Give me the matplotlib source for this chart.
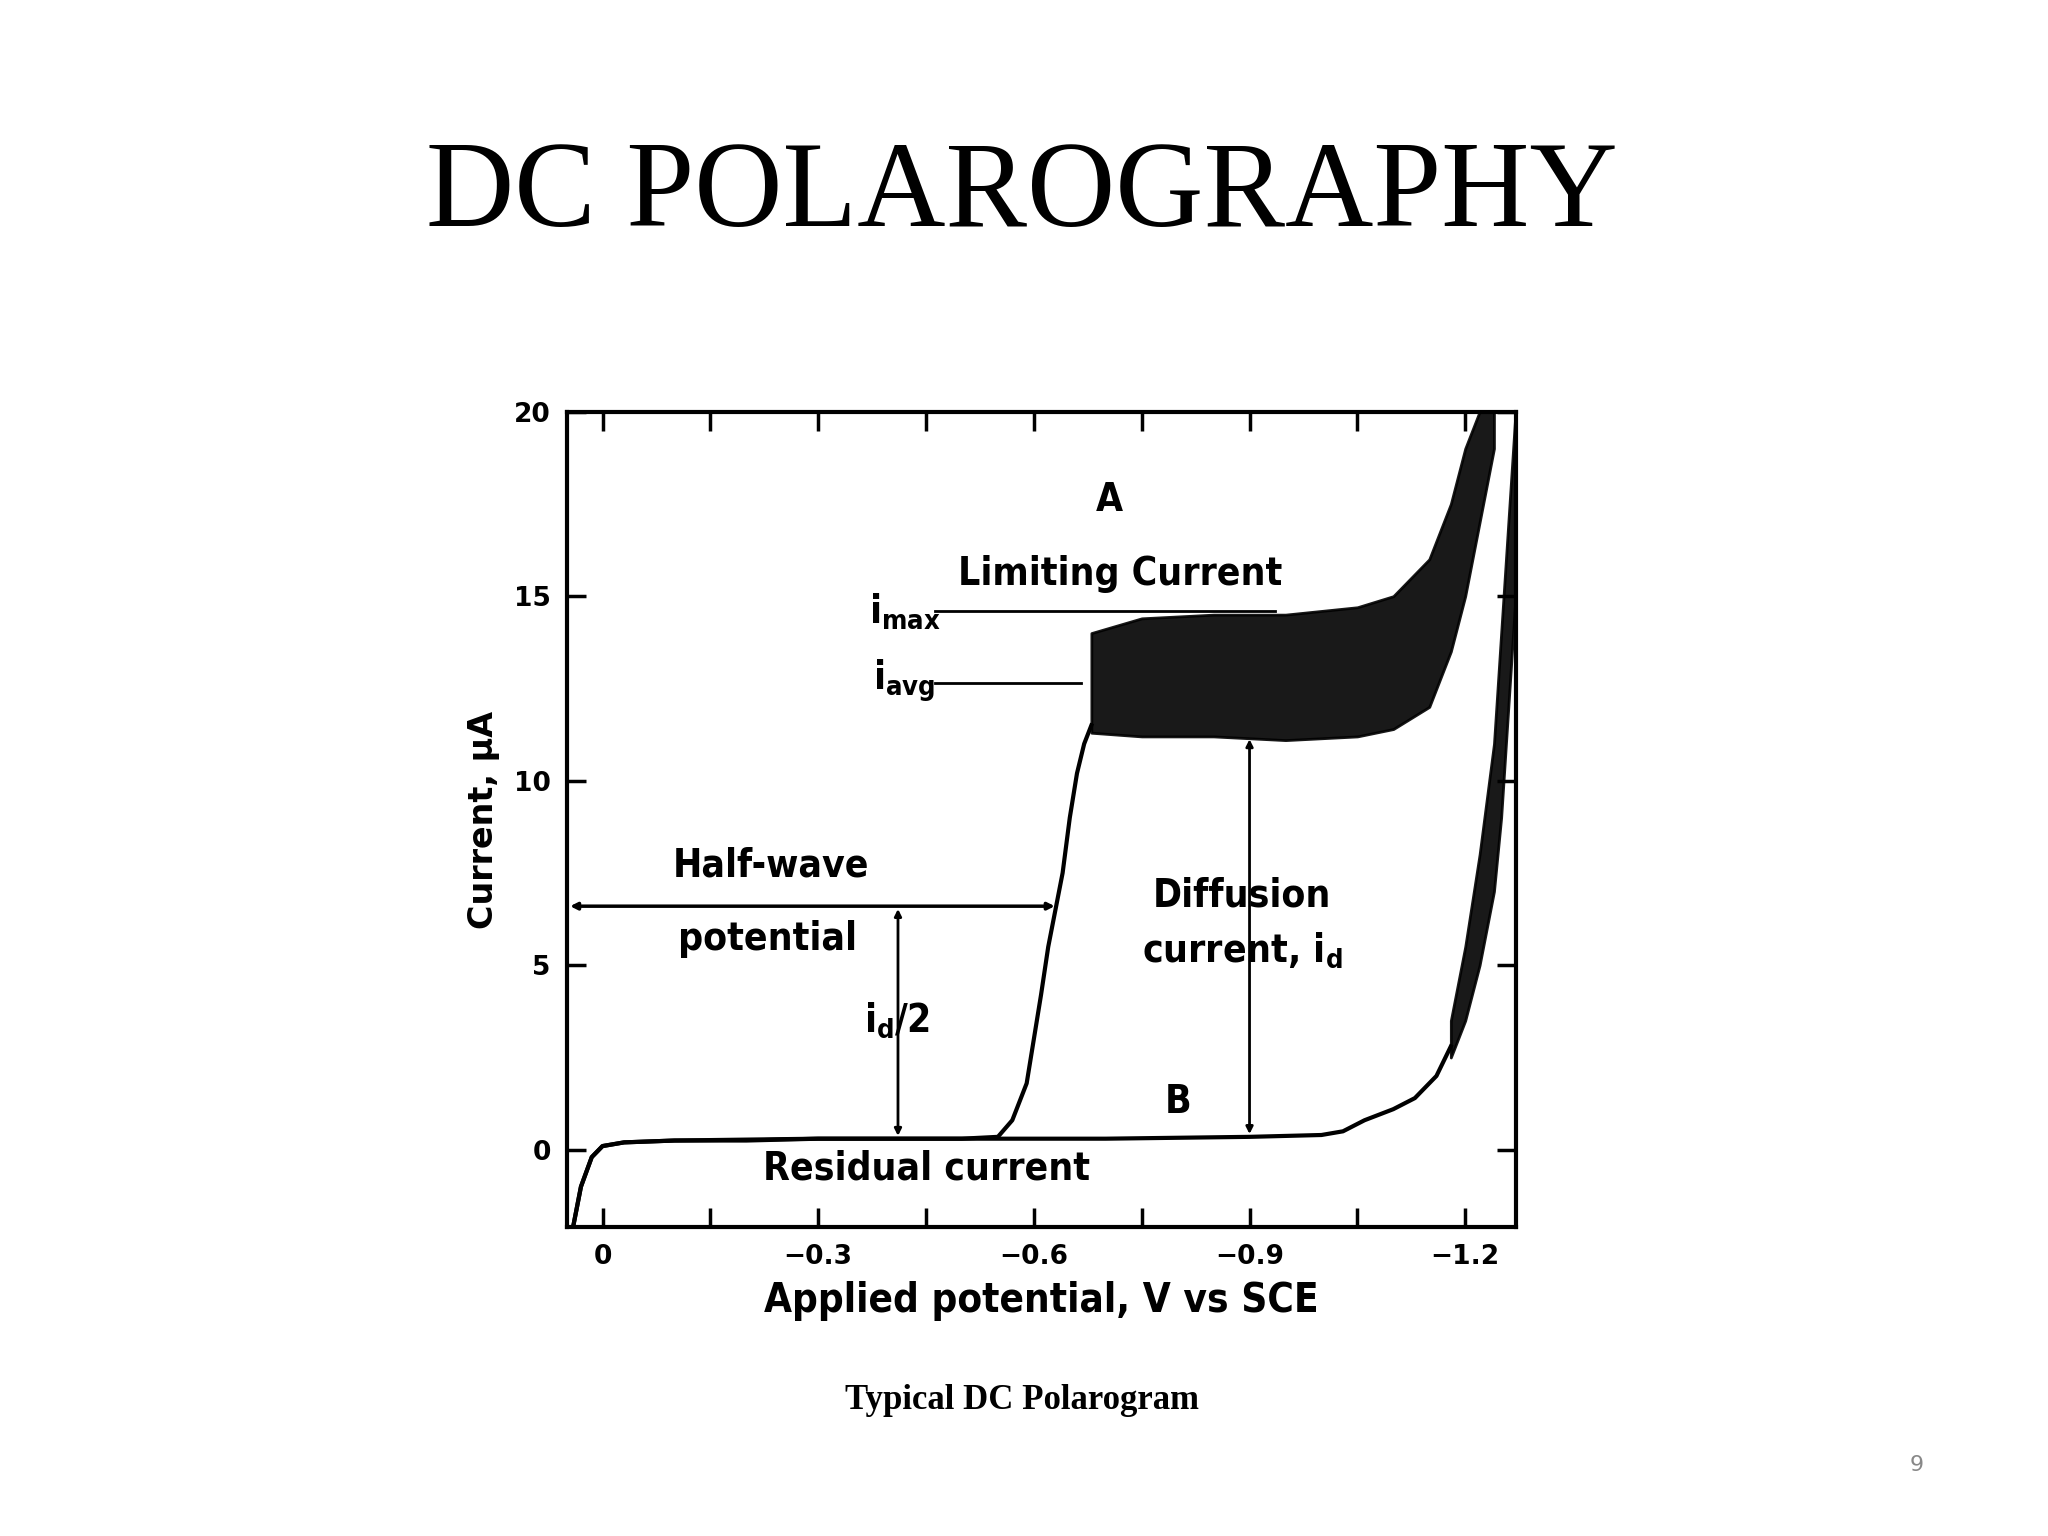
import numpy as np
import matplotlib
matplotlib.use("Agg")
import matplotlib.pyplot as plt

# curve A: residual part + rising wave (before oscillating plateau)
a_v = [0.04, 0.03, 0.015, 0.0, -0.03, -0.1, -0.2, -0.3, -0.4, -0.5, -0.55,
       -0.57, -0.59, -0.60, -0.61, -0.62, -0.63, -0.64, -0.65, -0.66, -0.67, -0.68]
a_i = [-2.0, -1.0, -0.2, 0.1, 0.2, 0.25, 0.25, 0.3, 0.3, 0.3, 0.35,
       0.8, 1.8, 3.0, 4.2, 5.5, 6.5, 7.5, 9.0, 10.2, 11.0, 11.5]
# curve A oscillating band envelopes
ab_v = [-0.68, -0.75, -0.85, -0.95, -1.05, -1.10, -1.15, -1.18, -1.20, -1.22, -1.24]
ab_lo = [11.3, 11.2, 11.2, 11.1, 11.2, 11.4, 12.0, 13.5, 15.0, 17.0, 19.0]
ab_hi = [14.0, 14.4, 14.5, 14.5, 14.7, 15.0, 16.0, 17.5, 19.0, 20.0, 20.0]

# curve B: residual current then decomposition rise
b_v = [0.04, 0.03, 0.015, 0.0, -0.03, -0.1, -0.3, -0.5, -0.7, -0.9, -1.0,
       -1.03, -1.06, -1.10, -1.13, -1.16, -1.18]
b_i = [-2.0, -1.0, -0.2, 0.1, 0.2, 0.25, 0.3, 0.3, 0.3, 0.35, 0.4,
       0.5, 0.8, 1.1, 1.4, 2.0, 2.8]
bb_v = [-1.18, -1.20, -1.22, -1.24, -1.25, -1.26, -1.27]
bb_lo = [2.5, 3.5, 5.0, 7.0, 9.0, 12.0, 15.0]
bb_hi = [3.5, 5.5, 8.0, 11.0, 14.0, 17.0, 20.0]

xticks = [0, -0.3, -0.6, -0.9, -1.2]
xtick_labels = ["0", "\u22120.3", "\u22120.6", "\u22120.9", "\u22121.2"]
yticks = [0, 5, 10, 15, 20]

nf = "DejaVu Sans"

fig = plt.figure(figsize=(20.48, 15.36), dpi=100)
fig.text(0.499, 0.872, "DC POLAROGRAPHY", ha="center", va="center",
         family="Liberation Serif", fontsize=88)
fig.text(0.499, 0.088, "Typical DC Polarogram", ha="center", va="center",
         family="Liberation Serif", fontsize=25, fontweight="bold")
fig.text(0.936, 0.046, "9", ha="center", va="center", color="#888888",
         family="DejaVu Sans", fontsize=16)

ax = fig.add_axes([0.277, 0.201, 0.463, 0.531])
ax.plot(a_v, a_i, "k-", lw=3)
ax.fill_between(ab_v, ab_lo, ab_hi, color="black", alpha=0.9, lw=2)
ax.plot(b_v, b_i, "k-", lw=3)
ax.fill_between(bb_v, bb_lo, bb_hi, color="black", alpha=0.9, lw=2)

ax.set_xlim(0.049, -1.27)
ax.set_ylim(-2.1, 20)
ax.set_xticks(xticks)
ax.set_xticklabels(xtick_labels)
ax.set_xticks([-0.15, -0.45, -0.75, -1.05], minor=True)
ax.set_yticks(yticks)
ax.tick_params(direction="in", which="both", top=True, right=True,
               length=14, width=2.5, labelsize=19, pad=12)
for lab in ax.get_xticklabels() + ax.get_yticklabels():
    lab.set_fontweight("bold")
for s in ax.spines.values():
    s.set_linewidth(3)

ax.set_xlabel("Applied potential, V vs SCE", family=nf, stretch="condensed",
              fontsize=29, fontweight="bold", labelpad=8)
ax.set_ylabel("Current, \u03bcA", family="DejaVu Sans", fontsize=24,
              fontweight="bold", labelpad=10)

tk = dict(family=nf, stretch="condensed", fontsize=28, fontweight="bold",
          ha="center", va="center")
ax.text(-0.705, 17.6, "A", **tk)
ax.text(-0.72, 15.6, "Limiting Current", **tk)
ax.text(-0.42, 14.6, "i$_{\\mathregular{max}}$", **tk)
ax.text(-0.42, 12.7, "i$_{\\mathregular{avg}}$", **tk)
ax.plot([-0.462, -0.935], [14.6, 14.6], "k-", lw=2)
ax.plot([-0.462, -0.665], [12.65, 12.65], "k-", lw=2)
ax.annotate("", xy=(0.049, 6.6), xytext=(-0.633, 6.6),
            arrowprops=dict(arrowstyle="<|-|>", color="k", lw=2.5))
ax.text(-0.235, 7.7, "Half-wave", **tk)
ax.text(-0.23, 5.7, "potential", **tk)
ax.annotate("", xy=(-0.411, 6.6), xytext=(-0.411, 0.3),
            arrowprops=dict(arrowstyle="<|-|>", color="k", lw=2))
ax.text(-0.41, 3.5, "i$_{\\mathregular{d}}$/2", **tk)
ax.annotate("", xy=(-0.9, 11.2), xytext=(-0.9, 0.35),
            arrowprops=dict(arrowstyle="<|-|>", color="k", lw=2))
ax.text(-0.89, 6.9, "Diffusion", **tk)
ax.text(-0.89, 5.4, "current, i$_{\\mathregular{d}}$", **tk)
ax.text(-0.80, 1.3, "B", **tk)
ax.text(-0.45, -0.5, "Residual current", **tk)

fig.savefig("out.png", dpi=100)
